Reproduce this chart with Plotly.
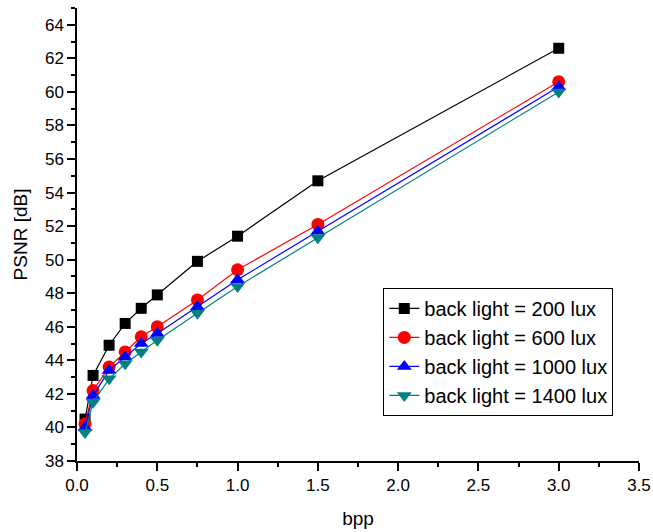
import plotly.graph_objects as go

bpp = [0.05, 0.1, 0.2, 0.3, 0.4, 0.5, 0.75, 1.0, 1.5, 3.0]
psnr_200 = [40.5, 43.1, 44.9, 46.2, 47.1, 47.9, 49.9, 51.4, 54.7, 62.6]
psnr_600 = [40.2, 42.2, 43.6, 44.5, 45.4, 46.0, 47.6, 49.4, 52.1, 60.6]
psnr_1000 = [40.0, 41.9, 43.4, 44.2, 45.0, 45.6, 47.2, 48.8, 51.7, 60.3]
psnr_1400 = [39.7, 41.5, 42.9, 43.8, 44.5, 45.2, 46.8, 48.4, 51.3, 60.0]

series = [
    ("back light = 200 lux", psnr_200, "black", "square", 11),
    ("back light = 600 lux", psnr_600, "red", "circle", 13),
    ("back light = 1000 lux", psnr_1000, "blue", "triangle-up", 13),
    ("back light = 1400 lux", psnr_1400, "#008080", "triangle-down", 13),
]

FONT = "Liberation Sans, Arial"

fig = go.Figure()
for name, ys, color, sym, size in series:
    fig.add_trace(go.Scatter(
        x=bpp, y=ys, name=name, mode="lines+markers",
        line=dict(color=color, width=1.2),
        marker=dict(symbol=sym, size=size, color=color),
    ))

axis_common = dict(
    showline=True, linecolor="black", linewidth=1.5, mirror=False,
    ticks="outside", ticklen=8, tickwidth=1.5, tickcolor="black",
    showgrid=False, zeroline=False, automargin=False,
    tickfont=dict(family=FONT, size=17, color="black"),
    title_font=dict(family=FONT, size=19, color="black"),
)

fig.update_xaxes(
    range=[0, 3.5], dtick=0.5, tickformat=".1f", title_text="bpp",
    minor=dict(ticks="outside", ticklen=4, dtick=0.25, tickcolor="black", tickwidth=1.5),
    title_standoff=18, **axis_common,
)
fig.update_yaxes(
    range=[38, 65], dtick=2, tick0=38, title_text="PSNR [dB]",
    minor=dict(ticks="outside", ticklen=4, dtick=1, tickcolor="black", tickwidth=1.5),
    title_standoff=12, **axis_common,
)

fig.update_layout(
    width=653, height=532,
    margin=dict(l=77, r=14, t=8, b=71),
    plot_bgcolor="white", paper_bgcolor="white",
    legend=dict(
        x=0.545, y=0.382, xanchor="left", yanchor="top",
        bordercolor="black", borderwidth=1, bgcolor="white",
        font=dict(family=FONT, size=20, color="black"),
        tracegroupgap=0,
    ),
)

# drop the default 8px body margin so the figure sits at the page corner
fig.write_html("out.html", config={"displayModeBar": False},
               post_script="document.body.style.margin='0';")
